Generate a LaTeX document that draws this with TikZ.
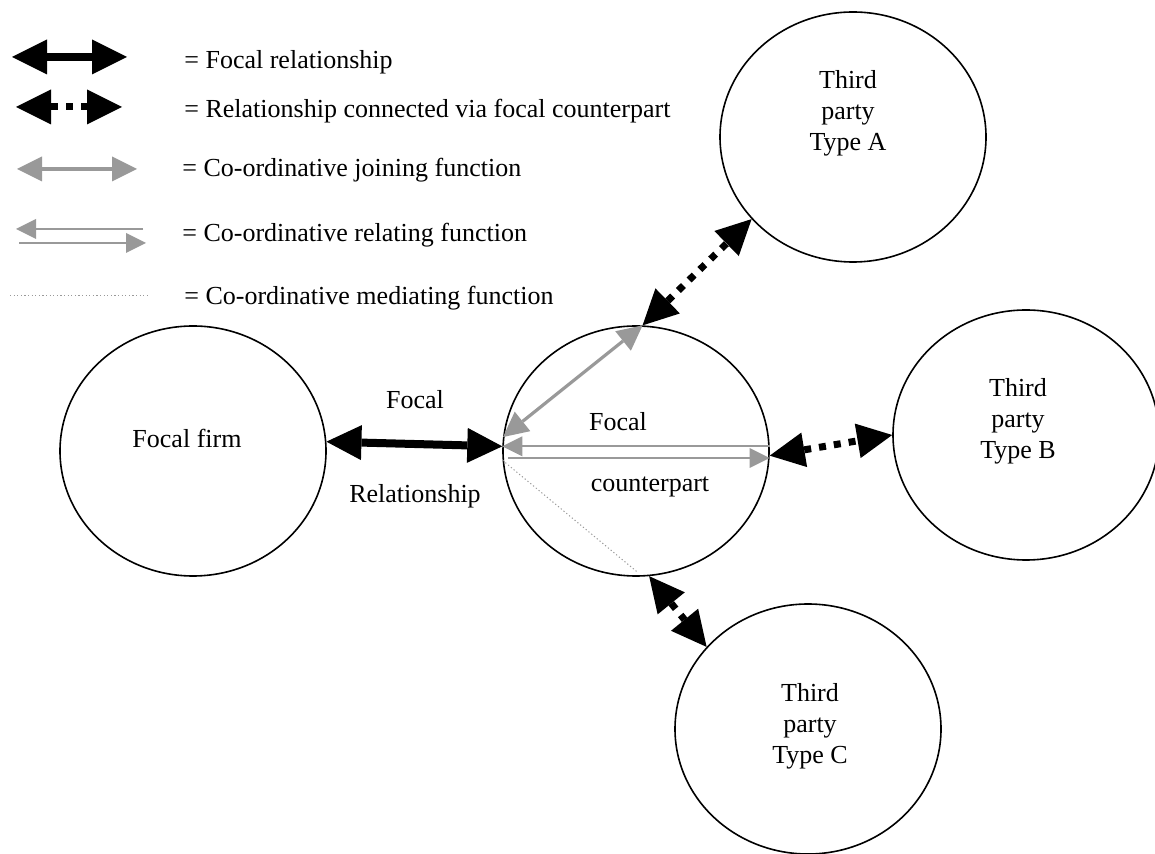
\documentclass[tikz,border=0pt]{standalone}
\usepackage{fontspec}
\setmainfont{Liberation Serif}
\usetikzlibrary{arrows.meta,shapes.geometric,positioning}
\definecolor{relgray}{RGB}{153,153,153}
\tikzset{
  bigtip/.tip={Triangle[length=17.5pt,width=17.5pt,line width=0pt]},
  midtip/.tip={Triangle[length=12.5pt,width=12.5pt,line width=0pt]},
  smalltip/.tip={Triangle[length=10pt,width=10pt,line width=0pt]},
  party/.style={
    ellipse,
    draw, line width=0.8pt,
    minimum width=133pt,
    minimum height=125pt,
    inner sep=0pt},
  focalrel/.style={draw, line width=4pt, bigtip-bigtip},
  viarel/.style={draw, line width=3.5pt, dash pattern=on 3.5pt off 4pt, bigtip-bigtip},
  joining/.style={draw=relgray, line width=1.6pt, midtip-midtip},
  relating/.style={draw=relgray, line width=1pt, -smalltip},
  mediating/.style={draw=relgray, line width=0.5pt, dash pattern=on 0.6pt off 1.2pt},
  legtext/.style={anchor=base west, inner sep=0pt},
  txt/.style={align=center, inner sep=0pt},
}

\begin{document}
\begin{tikzpicture}
  [x=0.5pt, y=-0.5pt,
  font=\fontsize{13}{15.6}\selectfont]
  \useasboundingbox (0,0) rectangle (1155,854);
  % key
  \coordinate (k1a) at (12,57);  \coordinate (k1b) at (127,57);
  \coordinate (k2a) at (16,107); \coordinate (k2b) at (122,107);
  \coordinate (k3a) at (17,169); \coordinate (k3b) at (137,169);
  \coordinate (k4a) at (16,229); \coordinate (k4b) at (143,229);
  \coordinate (k4c) at (19,243); \coordinate (k4d) at (146,243);
  \coordinate (k5a) at (10,296); \coordinate (k5b) at (147,296);
  \draw[focalrel] (k1a) -- (k1b);
  \draw[viarel] (k2a) -- (k2b);
  \draw[joining] (k3a) -- (k3b);
  \draw[relating] (k4b) -- (k4a);
  \draw[relating] (k4c) -- (k4d);
  \draw[mediating] (k5a) -- (k5b);
  \node[legtext] (k1) at (184,69) {= Focal relationship};
  \node[legtext] (k2) at (184,118) {= Relationship connected via focal counterpart};
  \node[legtext] (k3) at (182,177) {= Co-ordinative joining function};
  \node[legtext] (k4) at (182,242) {= Co-ordinative relating function};
  \node[legtext] (k5) at (184,305) {= Co-ordinative mediating function};
  % actors
  \node[party] (firm) at (193,451) {};
  \node[party] (counter) at (636,451) {};
  \node[party] (partya) at (853,137) {};
  \node[party] (partyb) at (1026,435) {};
  \node[party] (partyc) at (808,729) {};
  \node[anchor=base, inner sep=0pt] (firmtxt) at (187,448) {Focal firm};
  \node[txt] (atxt) at ([shift={(-5,-24)}]partya) {Third\\party\\Type A};
  \node[txt] (btxt) at ([shift={(-8,-14)}]partyb) {Third\\party\\Type B};
  \node[txt] (ctxt) at ([shift={(2,-3)}]partyc) {Third\\party\\Type C};
  \node[anchor=base, inner sep=0pt] (reltop) at (415,409) {Focal};
  \node[anchor=base, inner sep=0pt] (relbot) at (415,503) {Relationship};
  \node[anchor=base, inner sep=0pt] (cptop) at (618,431) {Focal};
  \node[anchor=base, inner sep=0pt] (cpbot) at (650,492) {counterpart};
  % links
  \draw[focalrel] (firm.4) -- (counter.178);
  \draw[joining] (counter.174) -- (counter.87);
  \draw[relating] (counter.2) -- (counter.178);
  \draw[relating] ([xshift=3pt]counter.183) -- (counter.357);
  \draw[mediating] (counter.184) -- ([yshift=2pt]counter.271);
  \draw[viarel] (counter.87) -- (partya.219);
  \draw[viarel] (counter.358) -- (partyb.180);
  \draw[viarel] (counter.276) -- (partyc.141);
\end{tikzpicture}
\end{document}
